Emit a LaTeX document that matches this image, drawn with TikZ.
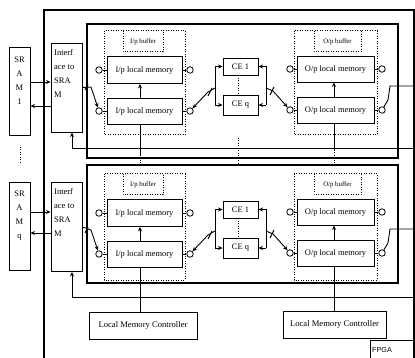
\documentclass[tikz,border=0pt]{standalone}
\usepackage{fontspec}
\setmainfont{Liberation Serif}
\newfontfamily\sansf{Liberation Sans}
\usetikzlibrary{arrows.meta}
\begin{document}
\begin{tikzpicture}[x=1pt,y=-1pt,
  ln/.style={line width=0.9pt},
  box/.style={draw, line width=0.9pt, inner sep=0pt, font=\fontsize{8.4}{9}\selectfont},
  circ/.style={draw, circle, line width=0.8pt, minimum size=6.5pt, inner sep=0pt},
  dotl/.style={line width=1pt, dash pattern=on 1pt off 1.5pt},
  arr/.style={line width=0.9pt, -{Stealth[length=4.5pt,width=4pt]}},
  lbl/.style={font=\fontsize{6.8}{7}\selectfont, inner sep=0pt},
  txt/.style={font=\fontsize{8.5}{14}\selectfont, inner sep=0pt, align=left}]
\useasboundingbox (0,0) rectangle (415,358);
% outer FPGA frame
\draw[line width=1.1pt] (44,358) -- (44,10) -- (414,10) -- (414,358);
\draw[ln] (370,358) -- (370,340) -- (414,340);
\node[anchor=west, inner sep=0pt, font=\sansf\fontsize{7.2}{8}\selectfont] (fpga) at (372,350) {FPGA};
% SRAMs and interfaces
\node[box, minimum width=21pt, minimum height=88pt] (sr1) at (19.5,91) {};
\node[box, minimum width=21pt, minimum height=88pt] (sr2) at (19.5,226) {};
\node[txt, align=center] (srt1) at (19.5,81) {SR\\A\\M\\1};
\node[txt, align=center] (srt2) at (19.5,216) {SR\\A\\M\\q};
\draw[dotl] (20,147) -- (20,164);
\node[box, minimum width=31pt, minimum height=89pt] (if1) at (66.5,87.5) {};
\node[box, minimum width=31pt, minimum height=89pt] (if2) at (66.5,227) {};
\node[txt, anchor=north west] (ift1) at (54,49) {Interf\\ace to\\SRA\\M};
\node[txt, anchor=north west] (ift2) at (54,188) {Interf\\ace to\\SRA\\M};
\draw[arr] (sr1.east |- 0,82) -- (if1.west |- 0,82);
\draw[arr] (if1.west |- 0,106) -- (sr1.east |- 0,106);
\draw[arr] (sr2.east |- 0,212) -- (if2.west |- 0,212);
\draw[arr] (if2.west |- 0,233) -- (sr2.east |- 0,233);
% local memory controllers
\node[box, font=\fontsize{8.6}{9}\selectfont, minimum width=108pt, minimum height=27pt] (lmcL) at (143,325.5) {Local Memory Controller};
\node[box, font=\fontsize{8.6}{9}\selectfont, minimum width=103pt, minimum height=27pt] (lmcR) at (334.5,324.5) {Local Memory Controller};
% panels
\foreach \p/\dy/\pt/\pb/\bb/\fb in {1/0/24/158/135/148, 2/143/165/283/280/297}{
  \draw[line width=1.1pt] (87,\pt) rectangle (398,\pb);
  % buffers
  \draw[dotl] (104,{31+\dy}) rectangle (185,\bb);
  \draw[dotl] (123,{31+\dy}) -- (123,{52+\dy}) -- (163,{52+\dy}) -- (163,{31+\dy});
  \node[lbl] (ibl\p) at (143,{42+\dy}) {I/p buffer};
  \draw[dotl] (294,{31+\dy}) rectangle (377,\bb);
  \draw[dotl] (314,{31+\dy}) -- (314,{52+\dy}) -- (361,{52+\dy}) -- (361,{31+\dy});
  \node[lbl] (obl\p) at (337.5,{42+\dy}) {O/p buffer};
  % memories
  \node[box, minimum width=75pt, minimum height=27pt] (ib1\p) at (144.5,{70+\dy}) {I/p local memory};
  \node[box, minimum width=75pt, minimum height=26pt] (ib2\p) at (144.5,{111+\dy}) {I/p local memory};
  \node[box, minimum width=77pt, minimum height=26pt] (ob1\p) at (335.5,{69+\dy}) {O/p local memory};
  \node[box, minimum width=77pt, minimum height=26pt] (ob2\p) at (335.5,{110+\dy}) {O/p local memory};
  \draw[arr] ([xshift=-4.5pt]ib2\p.north) -- ([xshift=-4.5pt]ib1\p.south);
  \draw[arr] ([xshift=-1.5pt]ob2\p.north) -- ([xshift=-1.5pt]ob1\p.south);
  % circles
  \node[circ] (icl1\p) at (99,{70+\dy}) {};
  \node[circ] (icr1\p) at (190,{70+\dy}) {};
  \node[circ] (icl2\p) at (99,{111+\dy}) {};
  \node[circ] (icr2\p) at (190,{111+\dy}) {};
  \node[circ] (ocl1\p) at (290,{69+\dy}) {};
  \node[circ] (ocr1\p) at (382,{69+\dy}) {};
  \node[circ] (ocl2\p) at (290,{110+\dy}) {};
  \node[circ] (ocr2\p) at (382,{110+\dy}) {};
  \draw[ln] (icl1\p.east) -- (ib1\p.west);
  \draw[ln] (icr1\p.west) -- (ib1\p.east);
  \draw[ln] (icl2\p.east) -- (ib2\p.west);
  \draw[ln] (icr2\p.west) -- (ib2\p.east);
  \draw[ln] (ocl1\p.east) -- (ob1\p.west);
  \draw[ln] (ocr1\p.west) -- (ob1\p.east);
  \draw[ln] (ocl2\p.east) -- (ob2\p.west);
  \draw[ln] (ocr2\p.west) -- (ob2\p.east);
  % compute elements
  \node[box, minimum width=35pt, minimum height=17pt] (ce1\p) at (240.5,{66.5+\dy}) {CE 1};
  \node[box, minimum width=35pt, minimum height=20pt] (ceq\p) at (240.5,{105+\dy}) {CE q};
  \draw[dotl] ([xshift=-2pt]ce1\p.south) -- ([xshift=-2pt]ceq\p.north);
  \coordinate (lb1\p) at (215,{66.5+\dy});
  \coordinate (lb2\p) at (215,{105+\dy});
  \coordinate (lm\p) at (215,{88+\dy});
  \draw[ln] (lb1\p) -- (lb2\p);
  \draw[arr] (lb1\p) -- (ce1\p.west);
  \draw[arr] (lb2\p) -- (ceq\p.west);
  \draw[arr] (lm\p) -- (208,{92+\dy}) -- (icr2\p);
  \draw[ln] (208,{96+\dy}) -- (212,{88+\dy});
  \coordinate (rb1\p) at (266,{66.5+\dy});
  \coordinate (rb2\p) at (266,{105+\dy});
  \coordinate (rm\p) at (266,{88+\dy});
  \draw[ln] (rb1\p) -- (rb2\p);
  \draw[arr] (rb1\p) -- (ce1\p.east);
  \draw[arr] (rb2\p) -- (ceq\p.east);
  \draw[arr] (rm\p) -- (273,{91+\dy}) -- (ocl2\p);
  \draw[ln] (270,{95+\dy}) -- (274,{87+\dy});
  % output to the right
  \coordinate (out\p) at (414,{86+\dy});
  \draw[ln] (ocr2\p) -- (388,{100+\dy}) -- (390,{86+\dy}) -- (out\p);
  % interface to input memory
  \draw[arr] (if\p.east) -- (91,{87+\dy}) -- (icl2\p);
  \draw[ln] (85,{90+\dy}) -- (88,{84+\dy});
  % feedback to interface
  \coordinate (fbr\p) at (414,\fb);
  \draw[arr] (fbr\p) -| ([xshift=5.5pt]if\p.south);
}
% panel 1 continuation lines
\coordinate (c1a) at (140,155);
\coordinate (c1b) at (140,165);
\coordinate (c2a) at (334,150);
\coordinate (c2b) at (334,165);
\draw[ln] ([xshift=-4.5pt]ib21.south) -- (c1a);
\draw[dotl] (c1a) -- (c1b);
\draw[ln] ([xshift=-1.5pt]ob21.south) -- (c2a);
\draw[dotl] (c2a) -- (c2b);
\draw[dotl] (238.5,138) -- (238.5,164);
% panel 2 to controllers
\draw[ln] ([xshift=-4.5pt]ib22.south) -- ([xshift=-4.5pt]ib22.south |- lmcL.north);
\draw[ln] ([xshift=-1.5pt]ob22.south) -- ([xshift=-1.5pt]ob22.south |- lmcR.north);
\end{tikzpicture}
\end{document}
